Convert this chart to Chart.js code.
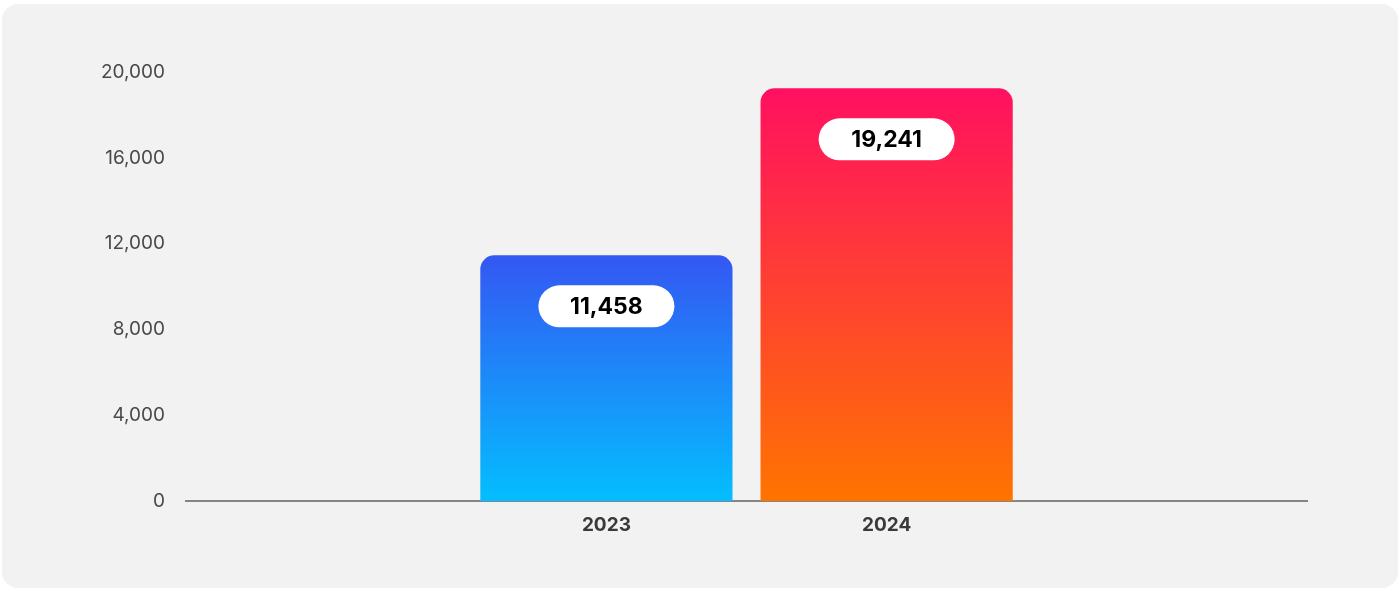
<!DOCTYPE html>
<html>
<head>
<meta charset="utf-8">
<script src="https://cdn.jsdelivr.net/npm/chart.js@4"></script>
<style>
  html, body { margin: 0; padding: 0; background: #ffffff; }
  .card {
    position: absolute;
    left: 2px; top: 4px;
    width: 1396px; height: 584px;
    background: #f2f2f2;
    border-radius: 16px;
  }
  canvas { display: block; }
</style>
</head>
<body>
<div class="card"><canvas id="chart" width="1396" height="584"></canvas></div>
<script>
// Yearly totals (empty slots on both sides keep the two bars centred)
const years = ['', '2023', '2024', ''];
const totals = [null, 11458, 19241, null];
const yTicks = [0, 4000, 8000, 12000, 16000, 20000];

// top / bottom colours of each bar's gradient
const topColors = [null, '#3457f3', '#ff1060', null];
const bottomColors = [null, '#04befe', '#ff7400', null];

const fmt = v => v.toLocaleString('en-US');

document.addEventListener('DOMContentLoaded', function() {
  const ctx = document.getElementById('chart').getContext('2d');

  // white pill with the value, near the top of each bar
  const valuePills = {
    id: 'valuePills',
    afterDatasetsDraw(chart) {
      const c = chart.ctx;
      const meta = chart.getDatasetMeta(0);
      meta.data.forEach((bar, i) => {
        const v = totals[i];
        if (v == null) return;
        const w = 136, h = 42, r = 21;
        const cx = bar.x;
        const cy = bar.y + 51;
        c.save();
        c.fillStyle = '#ffffff';
        c.beginPath();
        c.roundRect(cx - w / 2, cy - h / 2, w, h, r);
        c.fill();
        c.fillStyle = '#000000';
        c.font = 'bold 23px Inter, "Noto Sans", sans-serif';
        c.textAlign = 'center';
        c.textBaseline = 'middle';
        c.fillText(fmt(v), cx, cy + 1);
        c.restore();
      });
    }
  };

  const data = {
    labels: years,
    datasets: [{
      data: totals,
      backgroundColor: function(context) {
        const chart = context.chart;
        const area = chart.chartArea;
        const i = context.dataIndex;
        if (!area || totals[i] == null) return 'transparent';
        const yScale = chart.scales.y;
        const top = yScale.getPixelForValue(totals[i]);
        const bottom = yScale.getPixelForValue(0);
        const g = chart.ctx.createLinearGradient(0, top, 0, bottom);
        g.addColorStop(0, topColors[i]);
        g.addColorStop(1, bottomColors[i]);
        return g;
      },
      borderRadius: { topLeft: 14, topRight: 14 },
      borderSkipped: 'bottom',
      categoryPercentage: 1.0,
      barPercentage: 0.9
    }]
  };

  const config = {
    type: 'bar',
    data: data,
    options: {
      responsive: false,
      animation: false,
      layout: {
        padding: { top: 68, left: 86, right: 91, bottom: 46 }
      },
      plugins: {
        legend: { display: false },
        tooltip: { enabled: false }
      },
      scales: {
        x: {
          grid: { display: false },
          border: { display: true, color: '#858585', width: 2 },
          ticks: {
            padding: 5,
            color: '#3a3a3a',
            font: { family: 'Inter, "Noto Sans", sans-serif', size: 19, weight: 'bold' }
          }
        },
        y: {
          min: 0,
          max: 20000,
          afterBuildTicks: axis => { axis.ticks = yTicks.map(v => ({ value: v })); },
          grid: { display: false },
          border: { display: false },
          ticks: {
            padding: 13,
            color: '#4a4a4a',
            font: { family: 'Inter, "Noto Sans", sans-serif', size: 19 },
            callback: v => fmt(v)
          }
        }
      }
    },
    plugins: [valuePills]
  };

  new Chart(ctx, config);
});
</script>
</body>
</html>
